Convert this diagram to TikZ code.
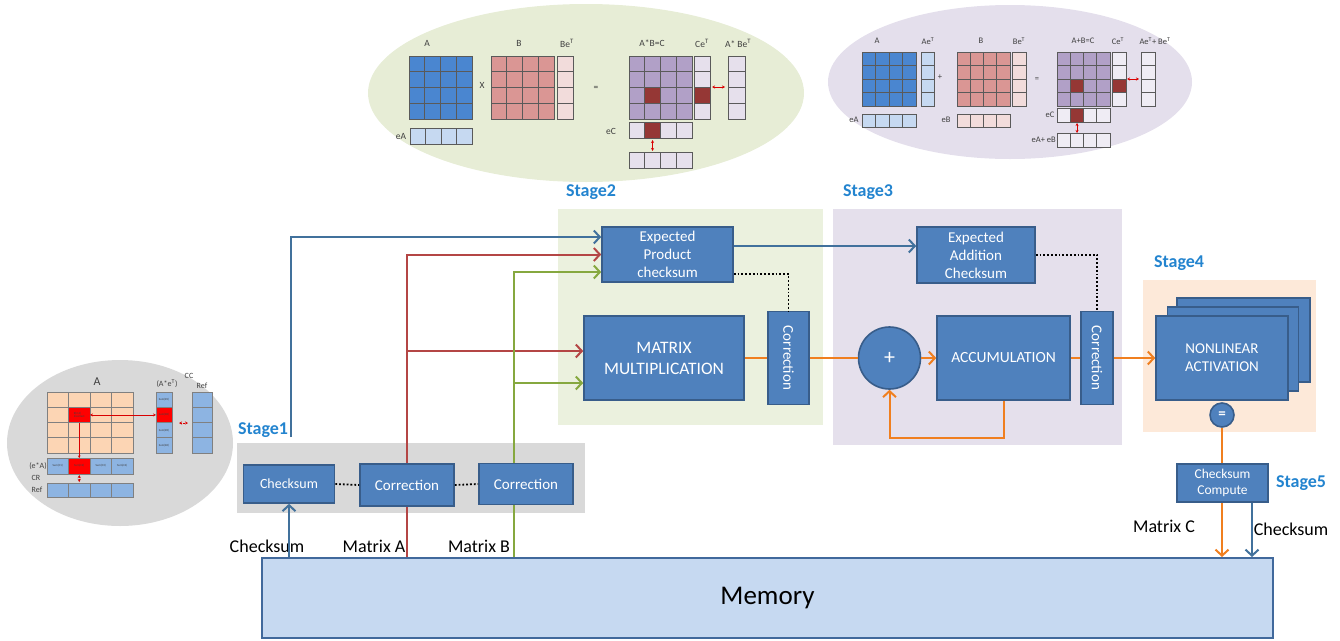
\documentclass[tikz,border=0pt]{standalone}
\usepackage{fontspec}
\usepackage{graphicx}
\setmainfont{Carlito}
\usetikzlibrary{arrows.meta,calc}

\definecolor{boxfill}{HTML}{4F81BD}
\definecolor{boxedge}{HTML}{385D8A}
\definecolor{memfill}{HTML}{C6D9F1}
\definecolor{memedge}{HTML}{41699C}
\definecolor{lnblue}{HTML}{41719C}
\definecolor{lnred}{HTML}{B44645}
\definecolor{lngreen}{HTML}{86A83F}
\definecolor{lnorange}{HTML}{F07F1F}
\definecolor{stagec}{HTML}{2384CF}
\definecolor{pgreen}{HTML}{EBF1DE}
\definecolor{ppurple}{HTML}{E5E0EC}
\definecolor{ppeach}{HTML}{FDE9D9}
\definecolor{pgray}{HTML}{D9D9D9}
\definecolor{egreen}{HTML}{E7EDD6}
\definecolor{epurple}{HTML}{E4DFEC}
\definecolor{mblue}{HTML}{4A86D0}
\definecolor{mpink}{HTML}{DA9694}
\definecolor{mpurple}{HTML}{B1A0C7}
\definecolor{mdred}{HTML}{953735}
\definecolor{lblue}{HTML}{C6D9F1}
\definecolor{lpink}{HTML}{F2DCDB}
\definecolor{lpurple}{HTML}{E6E0EC}
\definecolor{wpurple}{HTML}{EFECF4}
\definecolor{cpeach}{HTML}{FCD5B4}
\definecolor{cblue}{HTML}{8DB4E2}
\definecolor{gridc}{HTML}{5A5A5A}
\definecolor{txtc}{HTML}{404040}

% grid of cells: x, y, columns, rows, cell width, cell height, fill, edge
\newcommand{\mgrid}[8]{%
  \foreach \ci in {1,...,#3}{\foreach \cj in {1,...,#4}{%
    \path[fill=#7,draw=#8,line width=0.7pt] ({#1+(\ci-1)*#5},{#2+(\cj-1)*#6}) rectangle ++(#5,#6);}}}

\begin{document}
\begin{tikzpicture}[x=1pt,y=-1pt,
  box/.style={draw=boxedge,fill=boxfill,line width=1.6pt,text=white,align=center,inner sep=0pt},
  panel/.style={draw=none,inner sep=0pt},
  stagelbl/.style={text=stagec,font=\bfseries\fontsize{18}{21}\selectfont,inner sep=0pt},
  lbl/.style={text=black,font=\fontsize{18}{21}\selectfont,inner sep=0pt},
  tiny/.style={text=txtc,font=\fontsize{9.5}{11}\selectfont,inner sep=0pt},
  conn/.style={line width=2pt},
  arr/.style={-{Straight Barb[length=6pt,width=13pt]}},
  dots/.style={dotted,line width=1.8pt,black},
  rarrow/.style={red!85!black,line width=0.8pt,{Stealth[length=3pt,width=3pt]}-{Stealth[length=3pt,width=3pt]}}]

\useasboundingbox (0,0) rectangle (1340,640);

% ---------- illustration ellipses ----------
\fill[pgray] (120,443) ellipse [x radius=113, y radius=83];
\fill[egreen] (586,93) ellipse [x radius=218, y radius=89];
\fill[epurple] (1010,82) ellipse [x radius=182, y radius=77];

% row/column checksums of A
\node[text=txtc,font=\fontsize{12}{14}\selectfont,inner sep=0pt] (la) at (97,382) {A};
\mgrid{47}{392}{4}{4}{21.5}{15.25}{cpeach}{gray}
\path[fill=red,draw=gray,line width=0.7pt] (68.5,407.25) rectangle (90,422.5);
\node[text=txtc,font=\fontsize{3}{3.4}\selectfont,align=left,inner sep=0pt] at (79.25,414.9) {R(2,2)\\Incorrect};
\mgrid{156}{392}{1}{4}{16}{15.25}{cblue}{gray}
\path[fill=red,draw=gray,line width=0.7pt] (156,407.25) rectangle (172,422.5);
\foreach \k in {1,2,3,4}{\node[text=txtc,font=\fontsize{3}{3.4}\selectfont,inner sep=0pt] at (164,{392+(\k-0.5)*15.25}) {Sum(R\k)};}
\mgrid{192}{392}{1}{4}{20}{15.25}{cblue}{gray}
\mgrid{47}{458}{4}{1}{21.5}{16}{cblue}{gray}
\path[fill=red,draw=gray,line width=0.7pt] (68.5,458) rectangle (90,474);
\foreach \k in {1,2,3,4}{\node[text=txtc,font=\fontsize{3}{3.4}\selectfont,inner sep=0pt] at ({47+(\k-0.5)*21.5},466) {Sum(C\k)};}
\mgrid{47}{483}{4}{1}{21.5}{14}{cblue}{gray}
\draw[red!85!black,line width=0.6pt,-{Stealth[length=2.5pt,width=2.5pt]}] (79.25,422.5) -- (79.25,458);
\draw[rarrow,line width=0.6pt] (90,414.9) -- (156,414.9);
\draw[rarrow,densely dotted] (79.25,475) -- (79.25,482);
\draw[rarrow,densely dotted] (179,423) -- (188,423);
\node[tiny,font=\fontsize{8}{9}\selectfont] at (167,384) {(A*e\textsuperscript{T})};
\node[tiny,font=\fontsize{8}{9}\selectfont] at (189,376) {CC};
\node[tiny,font=\fontsize{8}{9}\selectfont] at (202,386) {Ref};
\node[tiny,font=\fontsize{8}{9}\selectfont] at (38,466) {(e*A)};
\node[tiny,font=\fontsize{8}{9}\selectfont] at (36,478) {CR};
\node[tiny,font=\fontsize{8}{9}\selectfont] at (37,490) {Ref};

% product checksums
\node[tiny] at (427,43) {A};
\mgrid{409}{56}{4}{4}{15.75}{15.75}{mblue}{gridc}
\node[tiny] at (482,85) {X};
\node[tiny] at (401,136) {eA};
\mgrid{410}{128}{4}{1}{15.5}{16}{lblue}{gridc}
\node[tiny] at (519,43) {B};
\mgrid{491}{56}{4}{4}{15.75}{15.75}{mpink}{gridc}
\node[tiny] at (567,43) {Be\textsuperscript{T}};
\mgrid{557}{56}{1}{4}{16}{15.75}{lpink}{gridc}
\node[tiny] at (596,88) {=};
\node[tiny] at (652,43) {A*B=C};
\mgrid{629}{56}{4}{4}{15.75}{15.75}{mpurple}{gridc}
\path[fill=mdred,draw=gridc,line width=0.7pt] (644.75,87.5) rectangle (660.5,103.25);
\node[tiny] at (702,43) {Ce\textsuperscript{T}};
\mgrid{694}{56}{1}{4}{16}{15.75}{lpurple}{gridc}
\path[fill=mdred,draw=gridc,line width=0.7pt] (694,87.5) rectangle (710,103.25);
\node[tiny] at (738,43) {A* Be\textsuperscript{T}};
\mgrid{728}{56}{1}{4}{17}{15.75}{lpurple}{gridc}
\draw[rarrow] (712,87) -- (725,87);
\node[tiny] at (611,131) {eC};
\mgrid{629}{122}{4}{1}{15.75}{16}{lpurple}{gridc}
\path[fill=mdred,draw=gridc,line width=0.7pt] (644.75,122) rectangle (660.5,138);
\draw[rarrow] (652.6,140) -- (652.6,151);
\mgrid{629}{152}{4}{1}{15.75}{16}{lpurple}{gridc}

% addition checksums
\node[tiny,font=\fontsize{8.5}{10}\selectfont] at (877,41) {A};
\mgrid{862}{52}{4}{4}{13.5}{13.5}{mblue}{gridc}
\node[tiny,font=\fontsize{8.5}{10}\selectfont] at (928,41) {Ae\textsuperscript{T}};
\mgrid{921}{52}{1}{4}{13}{13.5}{lblue}{gridc}
\node[tiny,font=\fontsize{8.5}{10}\selectfont] at (940,77) {+};
\node[tiny,font=\fontsize{8.5}{10}\selectfont] at (854,120) {eA};
\mgrid{862}{114}{4}{1}{13.5}{13}{lblue}{gridc}
\node[tiny,font=\fontsize{8.5}{10}\selectfont] at (981,41) {B};
\mgrid{957}{52}{4}{4}{13.25}{13.5}{mpink}{gridc}
\node[tiny,font=\fontsize{8.5}{10}\selectfont] at (1019,41) {Be\textsuperscript{T}};
\mgrid{1012}{52}{1}{4}{14}{13.5}{lpink}{gridc}
\node[tiny,font=\fontsize{8.5}{10}\selectfont] at (946,120) {eB};
\mgrid{957}{114}{4}{1}{13.25}{13}{lpink}{gridc}
\node[tiny,font=\fontsize{8.5}{10}\selectfont] at (1037,80) {=};
\node[tiny,font=\fontsize{8.5}{10}\selectfont] at (1083,41) {A+B=C};
\mgrid{1057}{52}{4}{4}{13.25}{13.5}{mpurple}{gridc}
\path[fill=mdred,draw=gridc,line width=0.7pt] (1070.25,79) rectangle (1083.5,92.5);
\node[tiny,font=\fontsize{8.5}{10}\selectfont] at (1118,41) {Ce\textsuperscript{T}};
\mgrid{1112}{52}{1}{4}{14}{13.5}{wpurple}{gridc}
\path[fill=mdred,draw=gridc,line width=0.7pt] (1112,79) rectangle (1126,92.5);
\node[tiny,font=\fontsize{8.5}{10}\selectfont] at (1155,41) {Ae\textsuperscript{T}+ Be\textsuperscript{T}};
\mgrid{1141}{52}{1}{4}{14}{13.5}{wpurple}{gridc}
\draw[rarrow] (1127,79) -- (1139,79);
\node[tiny,font=\fontsize{8.5}{10}\selectfont] at (1050,115) {eC};
\mgrid{1057}{108}{4}{1}{13.25}{14}{wpurple}{gridc}
\path[fill=mdred,draw=gridc,line width=0.7pt] (1070.25,108) rectangle (1083.5,122);
\draw[rarrow] (1077,123) -- (1077,133);
\node[tiny,font=\fontsize{8.5}{10}\selectfont,anchor=east] at (1056,140) {eA+ eB};
\mgrid{1057}{133}{4}{1}{13.25}{14}{wpurple}{gridc}

% ---------- stage panels ----------
\node[panel,fill=pgray,minimum width=348,minimum height=70] (p1) at (410.5,477.5) {};
\node[panel,fill=pgreen,minimum width=265,minimum height=216] (p2) at (690.5,317) {};
\node[panel,fill=ppurple,minimum width=289,minimum height=236] (p3) at (977.5,327) {};
\node[panel,fill=ppeach,minimum width=173,minimum height=152] (p4) at (1229.5,356) {};

\node[stagelbl] (s1) at (263,430) {Stage1};
\node[stagelbl] (s2) at (591,192) {Stage2};
\node[stagelbl] (s3) at (868,192) {Stage3};
\node[stagelbl] (s4) at (1179,263) {Stage4};
\node[stagelbl] (s5) at (1301,483) {Stage5};

% ---------- blocks ----------
\node[box,minimum width=91,minimum height=38,font=\fontsize{14}{16}\selectfont] (chk) at (289,484) {Checksum};
\node[box,minimum width=94,minimum height=42,font=\fontsize{15}{17}\selectfont] (cor1) at (407,485) {Correction};
\node[box,minimum width=94,minimum height=41,font=\fontsize{15}{17}\selectfont] (cor2) at (526,484) {Correction};

\node[box,minimum width=131,minimum height=55,font=\fontsize{15}{18}\selectfont] (epc) at (667.5,254.5) {Expected\\Product\\checksum};
\node[box,minimum width=160,minimum height=84,font=\fontsize{17.5}{21}\selectfont] (mm) at (664,358) {MATRIX\\MULTIPLICATION};
\node[box,minimum width=41,minimum height=93,font=\fontsize{15}{17}\selectfont] (crp) at (788.5,358) {\rotatebox{-90}{Correction}};

\node[box,minimum width=118,minimum height=56,font=\fontsize{15}{18}\selectfont] (eac) at (976,255) {Expected\\Addition\\Checksum};
\node[box,circle,minimum size=62,font=\fontsize{22}{24}\selectfont] (plus) at (889.5,358) {+};
\node[box,minimum width=133,minimum height=84,font=\fontsize{15.5}{17}\selectfont] (acc) at (1003.5,358) {ACCUMULATION};
\node[box,minimum width=32,minimum height=93,font=\fontsize{15}{17}\selectfont] (cra) at (1097,358) {\rotatebox{-90}{Correction}};

\node[box,minimum width=133,minimum height=84] (nl3) at (1243.5,340) {};
\node[box,minimum width=131,minimum height=84] (nl2) at (1233,349) {};
\node[box,minimum width=132,minimum height=84,font=\fontsize{15}{18}\selectfont] (nl) at (1222,358) {NONLINEAR\\ACTIVATION};
\node[box,circle,minimum size=24,font=\bfseries\fontsize{15}{15}\selectfont] (eq) at (1222,415) {=};
\node[box,minimum width=91,minimum height=38,font=\fontsize{13.5}{16}\selectfont] (cc) at (1222.5,483) {Checksum\\Compute};

\node[draw=memedge,fill=memfill,line width=2pt,minimum width=1011,minimum height=80,inner sep=0pt,font=\fontsize{27}{30}\selectfont] (mem) at (767.5,598) {Memory};

% ---------- labels ----------
\node[lbl] (lck) at (267,546) {Checksum};
\node[lbl] (lma) at (374,546) {Matrix A};
\node[lbl] (lmb) at (479,546) {Matrix B};
\node[lbl] (lmc) at (1164,526) {Matrix C};
\node[lbl] (lcs) at (1291,529) {Checksum};

% ---------- connectors ----------
\coordinate (bup) at (291,437);
\coordinate (gx) at ([xshift=-12pt]cor2.north);
\coordinate (gxb) at ([xshift=-12pt]cor2.south);
\coordinate (eblue) at ([yshift=17.5pt]epc.west);
\coordinate (egreen) at ([yshift=-17.5pt]epc.west);
\coordinate (mred) at ([yshift=7pt]mm.west);
\coordinate (mgreen) at ([yshift=-25pt]mm.west);
\coordinate (bout) at ([yshift=8.5pt]epc.east);
\coordinate (dotp) at ([yshift=-19.5pt]epc.east);
\coordinate (fb) at (889.5,438);
\coordinate (ccb) at ([xshift=29.5pt]cc.south);

% stage 1 feeds
\draw[conn,lnblue,arr] (mem.north -| chk.south) -- (chk.south);
\draw[conn,lnblue,arr] (bup) |- (eblue);
\draw[conn,lnred] (mem.north -| cor1.south) -- (cor1.south);
\draw[conn,lnred,arr] (cor1.north) |- (epc.west);
\draw[conn,lnred,arr] (cor1.north |- mred) -- (mred);
\draw[conn,lngreen] (mem.north -| gxb) -- (gxb);
\draw[conn,lngreen,arr] (gx) |- (egreen);
\draw[conn,lngreen,arr] (gx |- mgreen) -- (mgreen);
\draw[dots] (chk.east) -- (cor1.west);
\draw[dots] (cor1.east) -- (cor2.west);

% stage 2 / 3
\draw[conn,lnblue,arr] (bout) -- (bout -| eac.west);
\draw[dots] (dotp) -| (crp.north);
\draw[dots] (eac.east) -| (cra.north);
\draw[conn,lnorange] (mm.east) -- (crp.west);
\draw[conn,lnorange] (crp.east) -- (plus.west);
\draw[conn,lnorange,arr] (plus.east) -- (acc.west);
\draw[conn,lnorange] (acc.east) -- (cra.west);
\draw[conn,lnorange,arr] (acc.south) |- (fb) -- (plus.south);
\draw[conn,lnorange,arr] (cra.east) -- (nl.west);

% stage 4 / 5
\draw[conn,lnorange] (eq.south) -- (cc.north -| eq.south);
\draw[conn,lnorange,arr] (cc.south -| eq.south) -- (mem.north -| eq.south);
\draw[conn,lnblue,arr] (ccb) -- (mem.north -| ccb);
\end{tikzpicture}
\end{document}
